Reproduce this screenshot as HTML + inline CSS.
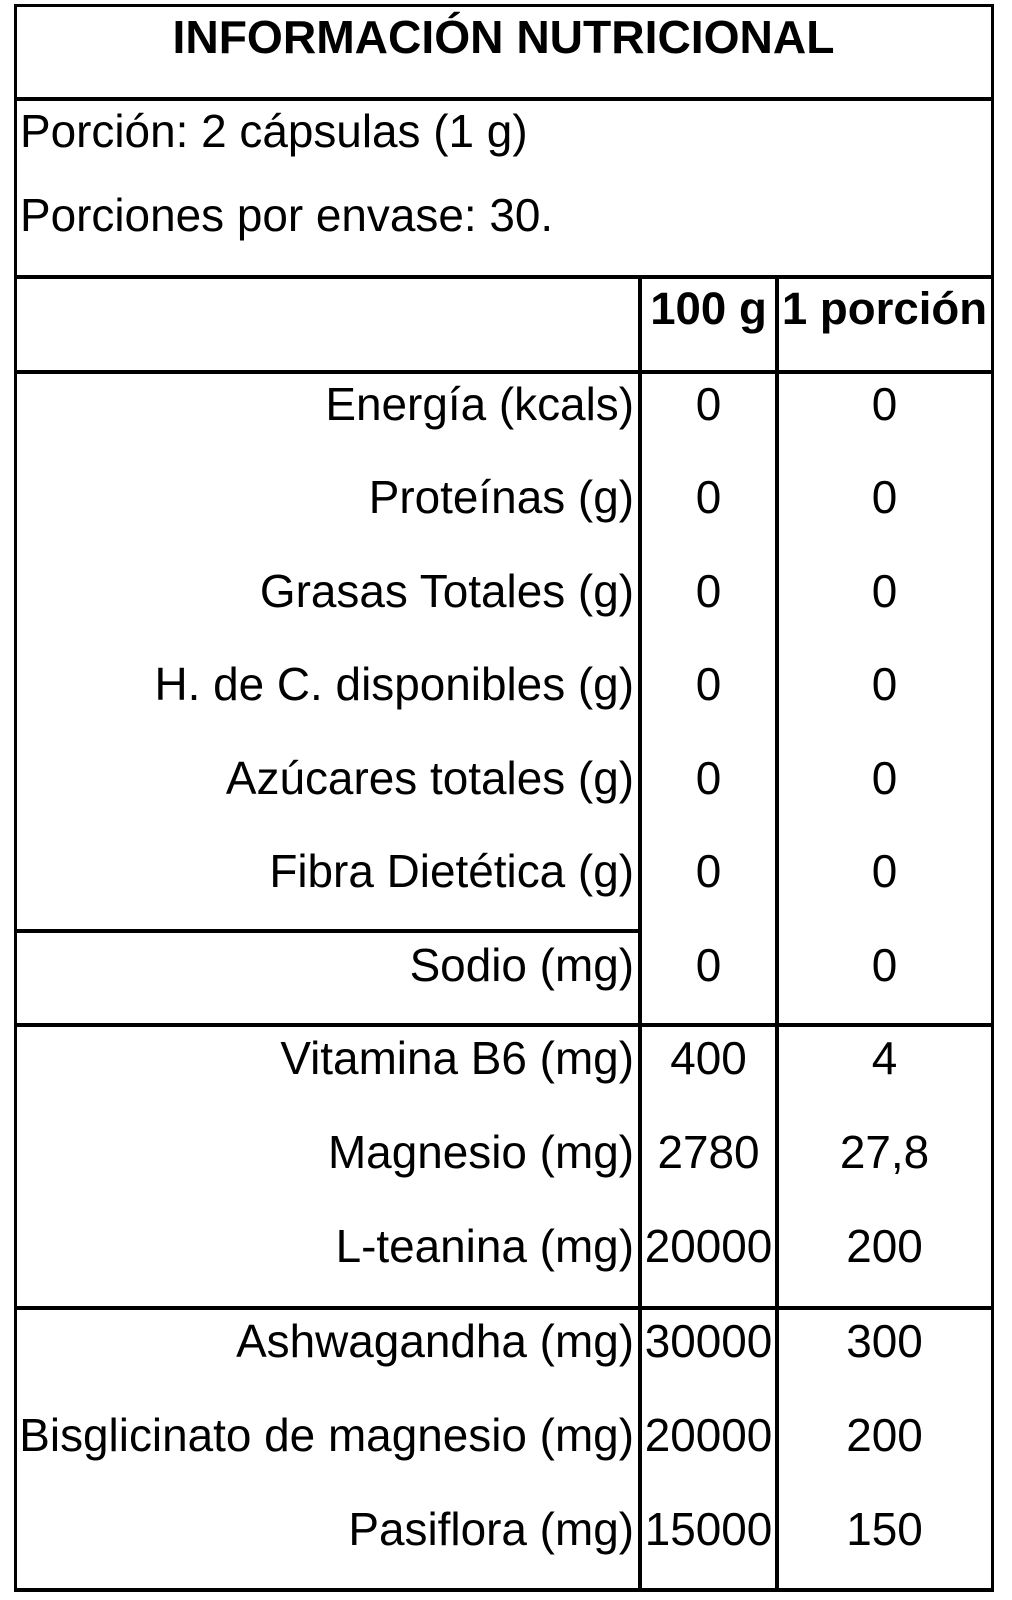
<!DOCTYPE html>
<html>
<head>
<meta charset="utf-8">
<style>
  html, body { margin:0; padding:0; background:#fff; }
  body { width:1012px; height:1600px; position:relative; overflow:hidden;
         font-family:"Liberation Sans", Arial, sans-serif; color:#000; }
  .l { position:absolute; background:#000; }
  .t { position:absolute; font-size:45.9px; line-height:52px; white-space:nowrap; }
  .lab { left:0; width:634px; text-align:right; }
  .c2 { left:640px; width:137px; text-align:center; }
  .c3 { left:777px; width:215px; text-align:center; }
  .b { font-weight:bold; }
</style>
</head>
<body>
  <!-- borders -->
  <div class="l" style="left:14px; top:4px; width:980px; height:3px;"></div>
  <div class="l" style="left:14px; top:4px; width:3px; height:1588px;"></div>
  <div class="l" style="left:991px; top:4px; width:3px; height:1588px;"></div>
  <div class="l" style="left:14px; top:1588px; width:980px; height:4px;"></div>
  <!-- horizontal lines -->
  <div class="l" style="left:14px; top:97px; width:980px; height:4px;"></div>
  <div class="l" style="left:14px; top:275px; width:980px; height:4px;"></div>
  <div class="l" style="left:14px; top:370px; width:980px; height:4px;"></div>
  <div class="l" style="left:14px; top:929px; width:626px; height:4px;"></div>
  <div class="l" style="left:14px; top:1023px; width:980px; height:4px;"></div>
  <div class="l" style="left:14px; top:1306px; width:980px; height:4px;"></div>
  <!-- vertical column lines -->
  <div class="l" style="left:638px; top:275px; width:4px; height:1317px;"></div>
  <div class="l" style="left:775px; top:275px; width:4px; height:1317px;"></div>

  <!-- title -->
  <div class="t b" style="left:15px; width:977px; text-align:center; top:10.5px; font-size:46.2px;">INFORMACIÓN NUTRICIONAL</div>
  <div class="t" style="left:20px; top:105px;">Porción: 2 cápsulas (1 g)</div>
  <div class="t" style="left:20px; top:188.5px;">Porciones por envase: 30.</div>

  <!-- header -->
  <div class="t b c2" style="top:283px; font-size:45.6px;">100 g</div>
  <div class="t b c3" style="top:283px; font-size:45.6px;">1 porción</div>

  <!-- rows -->
  <div class="t lab" style="top:377.5px;">Energía (kcals)</div>
  <div class="t c2" style="top:377.5px;">0</div>
  <div class="t c3" style="top:377.5px;">0</div>

  <div class="t lab" style="top:471px;">Proteínas (g)</div>
  <div class="t c2" style="top:471px;">0</div>
  <div class="t c3" style="top:471px;">0</div>

  <div class="t lab" style="top:564.5px;">Grasas Totales (g)</div>
  <div class="t c2" style="top:564.5px;">0</div>
  <div class="t c3" style="top:564.5px;">0</div>

  <div class="t lab" style="top:658px;">H. de C. disponibles (g)</div>
  <div class="t c2" style="top:658px;">0</div>
  <div class="t c3" style="top:658px;">0</div>

  <div class="t lab" style="top:751.5px;">Azúcares totales (g)</div>
  <div class="t c2" style="top:751.5px;">0</div>
  <div class="t c3" style="top:751.5px;">0</div>

  <div class="t lab" style="top:845px;">Fibra Dietética (g)</div>
  <div class="t c2" style="top:845px;">0</div>
  <div class="t c3" style="top:845px;">0</div>

  <div class="t lab" style="top:938.5px;">Sodio (mg)</div>
  <div class="t c2" style="top:938.5px;">0</div>
  <div class="t c3" style="top:938.5px;">0</div>

  <div class="t lab" style="top:1031.5px;">Vitamina B6 (mg)</div>
  <div class="t c2" style="top:1031.5px;">400</div>
  <div class="t c3" style="top:1031.5px;">4</div>

  <div class="t lab" style="top:1125.5px;">Magnesio (mg)</div>
  <div class="t c2" style="top:1125.5px;">2780</div>
  <div class="t c3" style="top:1125.5px;">27,8</div>

  <div class="t lab" style="top:1219.5px;">L-teanina (mg)</div>
  <div class="t c2" style="top:1219.5px;">20000</div>
  <div class="t c3" style="top:1219.5px;">200</div>

  <div class="t lab" style="top:1314.5px;">Ashwagandha (mg)</div>
  <div class="t c2" style="top:1314.5px;">30000</div>
  <div class="t c3" style="top:1314.5px;">300</div>

  <div class="t lab" style="top:1408.5px;">Bisglicinato de magnesio (mg)</div>
  <div class="t c2" style="top:1408.5px;">20000</div>
  <div class="t c3" style="top:1408.5px;">200</div>

  <div class="t lab" style="top:1502.5px;">Pasiflora (mg)</div>
  <div class="t c2" style="top:1502.5px;">15000</div>
  <div class="t c3" style="top:1502.5px;">150</div>
</body>
</html>
